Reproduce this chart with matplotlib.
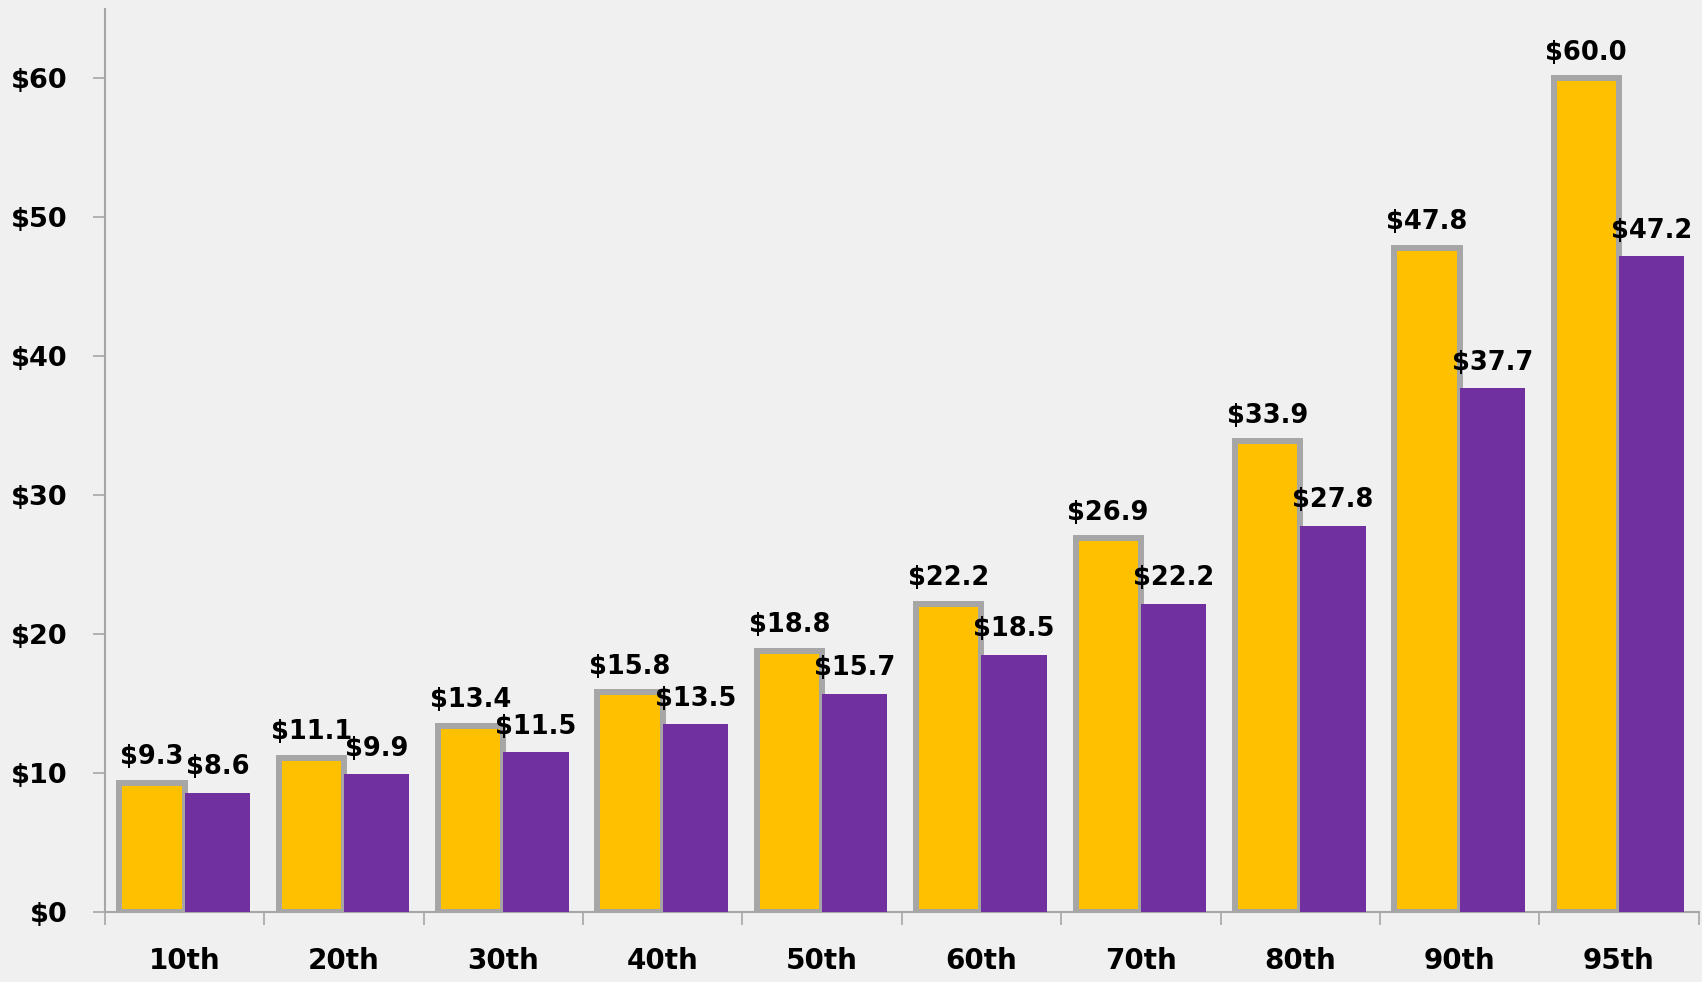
import matplotlib
matplotlib.use("Agg")
import matplotlib.pyplot as plt
import numpy as np

categories = ["10th", "20th", "30th", "40th", "50th", "60th", "70th", "80th", "90th", "95th"]
series_a = [9.3, 11.1, 13.4, 15.8, 18.8, 22.2, 26.9, 33.9, 47.8, 60.0]
series_b = [8.6, 9.9, 11.5, 13.5, 15.7, 18.5, 22.2, 27.8, 37.7, 47.2]
yticks = [0, 10, 20, 30, 40, 50, 60]
ytick_labels = ["$0", "$10", "$20", "$30", "$40", "$50", "$60"]

plt.rcParams['font.family'] = ['DejaVu Sans']

bg = "#F0F0F0"
fig = plt.figure(figsize=(17.02, 9.82), dpi=100, facecolor=bg)
ax = fig.add_axes([0.0617, 0.0713, 0.9363, 0.9195], facecolor=bg)

x = np.arange(len(categories))
w = 0.41
ax.bar(x - w / 2, series_a, w, color="#FFC000", edgecolor="#A6A6A6", linewidth=4.3, zorder=2)
ax.bar(x + w / 2, series_b, w, color="#7030A0", edgecolor="none", zorder=3)

for xi, v in zip(x, series_a):
    ax.annotate(f"${v:.1f}", (xi - w / 2, v), xytext=(0, 9), textcoords="offset points",
                ha="center", va="bottom", fontsize=18.5, fontweight="bold", color="black", zorder=5)
for xi, v in zip(x, series_b):
    ax.annotate(f"${v:.1f}", (xi + w / 2, v), xytext=(0, 9), textcoords="offset points",
                ha="center", va="bottom", fontsize=18.5, fontweight="bold", color="black", zorder=5)

ax.set_xlim(-0.5, len(categories) - 0.5)
ax.set_ylim(0, 65)
ax.set_yticks(yticks)
ax.set_yticklabels(ytick_labels, fontsize=19.5, fontweight="bold")
ax.set_xticks(x)
ax.set_xticklabels(categories, fontsize=20, fontweight="bold")
ax.set_xticks(np.arange(len(categories) + 1) - 0.5, minor=True)
ax.tick_params(axis="x", which="major", length=0, pad=25)
ax.tick_params(axis="x", which="minor", length=9, width=1.2, color="#A6A6A6", direction="out")
ax.tick_params(axis="y", which="major", length=9, width=1.2, color="#A6A6A6", direction="out", pad=18)

for s in ["top", "right"]:
    ax.spines[s].set_visible(False)
for s in ["left", "bottom"]:
    ax.spines[s].set_color("#A6A6A6")
    ax.spines[s].set_linewidth(1.5)

fig.savefig("out.png", dpi=100, facecolor=bg)
